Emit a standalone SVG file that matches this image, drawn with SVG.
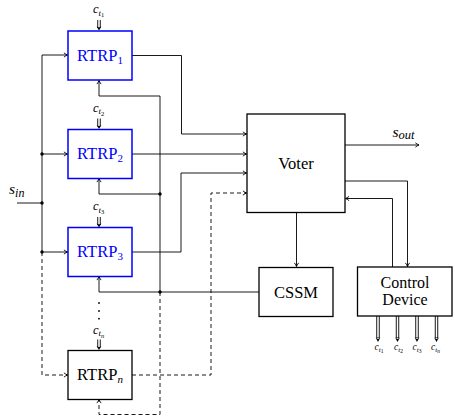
<svg xmlns="http://www.w3.org/2000/svg" width="455" height="416" viewBox="0 0 455 416">
<style>
.box{fill:#fff;stroke:#000;stroke-width:1.3}
.bbox{fill:#fff;stroke:#00f;stroke-width:1.5}
.ln{fill:none;stroke:#000;stroke-width:0.9}
.arr{marker-end:url(#ah)}
.dash{stroke-dasharray:4 3}
.t{font-family:"Liberation Serif","Times New Roman",serif;font-size:16.5px;text-anchor:middle;fill:#000}
.t2{font-family:"Liberation Serif","Times New Roman",serif;font-size:16px;text-anchor:middle;fill:#000}
.blue{fill:#00f}
.m{font-family:"Liberation Serif","Times New Roman",serif;font-style:italic;fill:#000}
.up{font-style:normal}
.dot{fill:#000}
</style>
<defs>
<marker id="ah" viewBox="-5 -3 6 6" refX="0" refY="0" markerWidth="6" markerHeight="6" markerUnits="userSpaceOnUse" orient="auto">
<path d="M-3.6,-2.1 Q-1.5,-0.6 0,0 Q-1.5,0.6 -3.6,2.1" fill="none" stroke="#000" stroke-width="0.9"/>
</marker>
<g id="dS">
<path d="M0,0 V8" stroke="#000" stroke-width="3.4"/>
<path d="M0,-1 V7.5" stroke="#fff" stroke-width="1.6"/>
<path d="M-2.4,6.5 L0,10.5 L2.4,6.5 L0,7.8 Z" fill="#000"/>
</g>
<g id="dL">
<path d="M0,0 V22" stroke="#000" stroke-width="3.4"/>
<path d="M0,0 V21.5" stroke="#fff" stroke-width="1.6"/>
<path d="M-2.4,21.5 L0,26 L2.4,21.5 L0,23 Z" fill="#000"/>
</g>
</defs>

<g id="connectors">
<path class="ln" d="M17,203 H42"/>
<path class="ln arr" d="M42,203 V55 H67.5"/>
<path class="ln arr" d="M42,154 H67.5"/>
<path class="ln arr" d="M42,203 V252 H67.5"/>
<path class="ln arr dash" d="M42,252 V375 H67.5"/>
<path class="ln arr" d="M132,55.5 H181.5 V134 H246.5"/>
<path class="ln arr" d="M132,154 H246.5"/>
<path class="ln arr" d="M132,252 H181 V173 H246.5"/>
<path class="ln arr dash" d="M132,375 H211 V193 H246.5"/>
<path class="ln arr" d="M259,292 H99 V276.5"/>
<path class="ln arr" d="M160,292 V194 H99 V178.5"/>
<path class="ln arr" d="M160,194 V96 H99 V80.5"/>
<path class="ln arr dash" d="M160,292 V414.5 H99 V399.5"/>
<path class="ln arr" d="M345,145 H419"/>
<path class="ln arr" d="M296.5,212.5 V266.5"/>
<path class="ln arr" d="M345,181 H407.5 V266.5"/>
<path class="ln arr" d="M392.5,267 V198.5 H345.5"/>
<circle class="dot" cx="42" cy="154" r="1.7"/>
<circle class="dot" cx="42" cy="203" r="1.7"/>
<circle class="dot" cx="42" cy="252" r="1.7"/>
<circle class="dot" cx="160" cy="194" r="1.7"/>
<circle class="dot" cx="160" cy="292" r="1.7"/>
<use href="#dS" x="99" y="20"/>
<use href="#dS" x="99" y="118.5"/>
<use href="#dS" x="99" y="217"/>
<use href="#dS" x="99" y="339.5"/>
<use href="#dL" x="378" y="316"/>
<use href="#dL" x="397.5" y="316"/>
<use href="#dL" x="417" y="316"/>
<use href="#dL" x="436.5" y="316"/>
<circle class="dot" cx="99" cy="303" r="0.9"/>
<circle class="dot" cx="99" cy="311" r="0.9"/>
<circle class="dot" cx="99" cy="318.7" r="0.9"/>
</g>

<g id="labels">
<text class="m" x="9" y="193.5" font-size="15.5">s<tspan font-size="12" dy="3">in</tspan></text>
<text class="m" x="392.5" y="137" font-size="15.5">s<tspan font-size="12.5" dy="2">out</tspan></text>
<text class="m" x="93" y="13" font-size="12.5">c<tspan font-size="9" dy="2.6">t</tspan><tspan class="up" font-size="6.5" dy="1.6">1</tspan></text>
<text class="m" x="93" y="111.5" font-size="12.5">c<tspan font-size="9" dy="2.6">t</tspan><tspan class="up" font-size="6.5" dy="1.6">2</tspan></text>
<text class="m" x="93" y="210" font-size="12.5">c<tspan font-size="9" dy="2.6">t</tspan><tspan class="up" font-size="6.5" dy="1.6">3</tspan></text>
<text class="m" x="93" y="333.5" font-size="12.5">c<tspan font-size="9" dy="2.6">t</tspan><tspan font-size="6.5" dy="1.6">n</tspan></text>
<text class="m" x="374.5" y="350" font-size="9.5">c<tspan font-size="7" dy="2">t</tspan><tspan class="up" font-size="5.5" dy="1.4">1</tspan></text>
<text class="m" x="394" y="350" font-size="9.5">c<tspan font-size="7" dy="2">t</tspan><tspan class="up" font-size="5.5" dy="1.4">2</tspan></text>
<text class="m" x="412.5" y="350" font-size="9.5">c<tspan font-size="7" dy="2">t</tspan><tspan class="up" font-size="5.5" dy="1.4">3</tspan></text>
<text class="m" x="431" y="350" font-size="9.5">c<tspan font-size="7" dy="2">t</tspan><tspan font-size="5.5" dy="1.4">n</tspan></text>
</g>

<g id="rtrp1">
<rect class="bbox" x="68" y="31" width="64" height="49"/>
<text class="t blue" x="100" y="60.5">RTRP<tspan font-size="11" dy="3">1</tspan></text>
</g>
<g id="rtrp2">
<rect class="bbox" x="68" y="129.5" width="64" height="49"/>
<text class="t blue" x="100" y="159">RTRP<tspan font-size="11" dy="3">2</tspan></text>
</g>
<g id="rtrp3">
<rect class="bbox" x="68" y="227.5" width="64" height="49"/>
<text class="t blue" x="100" y="257">RTRP<tspan font-size="11" dy="3">3</tspan></text>
</g>
<g id="rtrpn">
<rect class="box" x="68" y="350.5" width="64" height="49"/>
<text class="t" x="100" y="380">RTRP<tspan font-size="11" font-style="italic" dy="3">n</tspan></text>
</g>
<g id="voter">
<rect class="box" x="247" y="114" width="98" height="98.5"/>
<text class="t" x="296" y="169">Voter</text>
</g>
<g id="cssm">
<rect class="box" x="259" y="267.5" width="74" height="49"/>
<text class="t" x="296" y="298">CSSM</text>
</g>
<g id="control">
<rect class="box" x="357.5" y="267" width="94.5" height="49"/>
<text class="t2" x="405" y="288">Control</text>
<text class="t2" x="405" y="305">Device</text>
</g>
</svg>
